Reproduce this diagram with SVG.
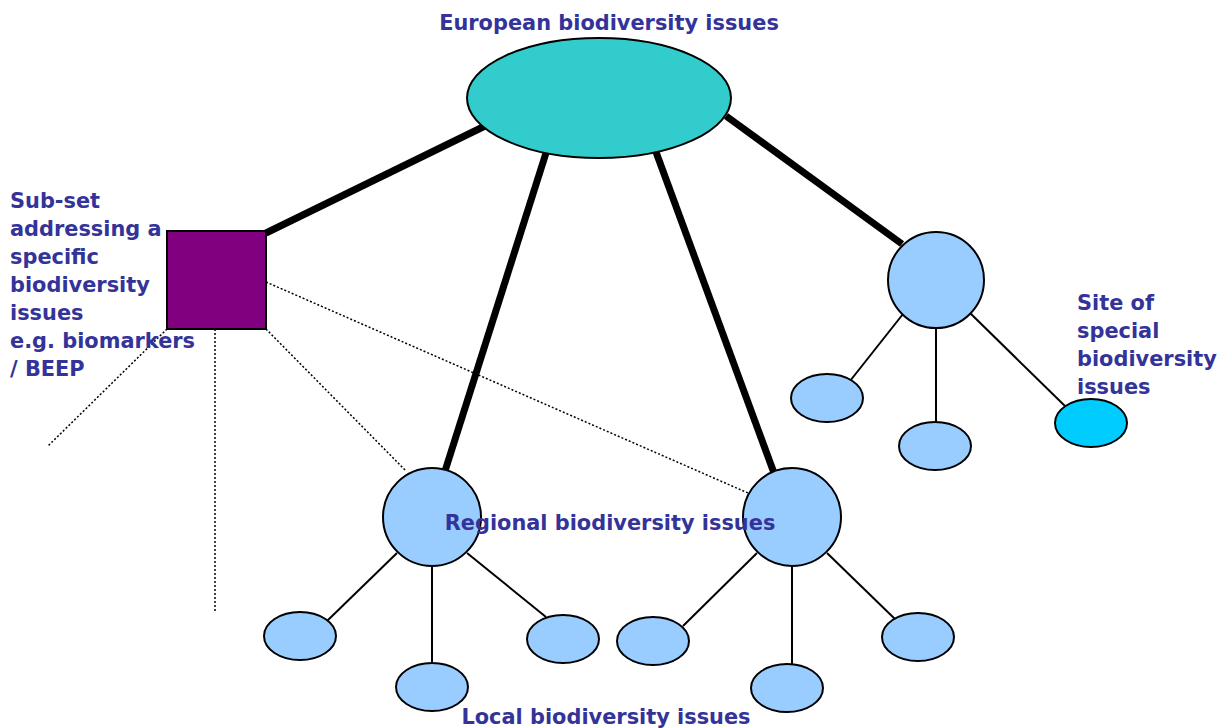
<svg xmlns="http://www.w3.org/2000/svg" width="1220" height="728" viewBox="0 0 1220 728">
<style>
text{font-family:"DejaVu Sans",Verdana,sans-serif;font-weight:bold;font-size:22px;fill:#333399}
.thick{stroke:#000;stroke-width:7;fill:none}
.thin{stroke:#000;stroke-width:2;fill:none}
.dot{stroke:#000;stroke-width:1.5;stroke-dasharray:2 2;fill:none}
.lc{fill:#99CCFF;stroke:#000;stroke-width:2}
</style>
<rect width="1220" height="728" fill="#fff"/>
<g id="connectors">
<line class="thick" x1="266" y1="233" x2="485" y2="126"/>
<line class="thick" x1="546" y1="153" x2="445" y2="471"/>
<line class="thick" x1="656" y1="152" x2="774" y2="473"/>
<line class="thick" x1="726" y1="116" x2="902" y2="244"/>
<line class="dot" x1="167" y1="329" x2="48" y2="446"/>
<line class="dot" x1="215" y1="329" x2="215" y2="612"/>
<line class="dot" x1="266" y1="329" x2="406" y2="471"/>
<line class="dot" x1="266" y1="282" x2="748" y2="493"/>
<line class="thin" x1="397" y1="553" x2="327" y2="621"/>
<line class="thin" x1="432" y1="566" x2="432" y2="663"/>
<line class="thin" x1="467" y1="553" x2="546" y2="617"/>
<line class="thin" x1="757" y1="553" x2="683" y2="626"/>
<line class="thin" x1="792" y1="566" x2="792" y2="665"/>
<line class="thin" x1="827" y1="553" x2="896" y2="620"/>
<line class="thin" x1="903" y1="314" x2="850" y2="381"/>
<line class="thin" x1="936" y1="328" x2="936" y2="422"/>
<line class="thin" x1="970" y1="313" x2="1065" y2="406"/>
</g>
<g id="european"><ellipse cx="599" cy="98" rx="132" ry="60" fill="#33CCCC" stroke="#000" stroke-width="2"/><text transform="translate(609,30) scale(0.95,1)" text-anchor="middle">European biodiversity issues</text></g>
<g id="subset"><rect x="167" y="231" width="99" height="98" fill="#800080" stroke="#000" stroke-width="2"/>
<text transform="translate(10,0) scale(0.95,1)"><tspan x="0" y="208">Sub-set</tspan><tspan x="0" y="236">addressing a</tspan><tspan x="0" y="264">specific</tspan><tspan x="0" y="292">biodiversity</tspan><tspan x="0" y="320">issues</tspan><tspan x="0" y="348">e.g. biomarkers</tspan><tspan x="0" y="376">/ BEEP</tspan></text></g>
<g id="regional-left"><circle class="lc" cx="432" cy="517" r="49"/></g>
<g id="regional-right"><circle class="lc" cx="792" cy="517" r="49"/></g>
<g id="regional-top"><circle class="lc" cx="936" cy="280" r="48"/></g>
<g id="local1"><ellipse class="lc" cx="300" cy="636" rx="36" ry="24"/></g>
<g id="local2"><ellipse class="lc" cx="432" cy="687" rx="36" ry="24"/></g>
<g id="local3"><ellipse class="lc" cx="563" cy="639" rx="36" ry="24"/></g>
<g id="local4"><ellipse class="lc" cx="653" cy="641" rx="36" ry="24"/></g>
<g id="local5"><ellipse class="lc" cx="787" cy="688" rx="36" ry="24"/></g>
<g id="local6"><ellipse class="lc" cx="918" cy="637" rx="36" ry="24"/></g>
<g id="local7"><ellipse class="lc" cx="827" cy="398" rx="36" ry="24"/></g>
<g id="local8"><ellipse class="lc" cx="935" cy="446" rx="36" ry="24"/></g>
<g id="special"><ellipse cx="1091" cy="423" rx="36" ry="24" fill="#00CCFF" stroke="#000" stroke-width="2"/>
<text transform="translate(1077,0) scale(0.95,1)"><tspan x="0" y="310">Site of</tspan><tspan x="0" y="338">special</tspan><tspan x="0" y="366">biodiversity</tspan><tspan x="0" y="394">issues</tspan></text></g>
<g id="labels"><text transform="translate(610,530) scale(0.95,1)" text-anchor="middle">Regional biodiversity issues</text><text transform="translate(606,724) scale(0.95,1)" text-anchor="middle">Local biodiversity issues</text></g>
</svg>
